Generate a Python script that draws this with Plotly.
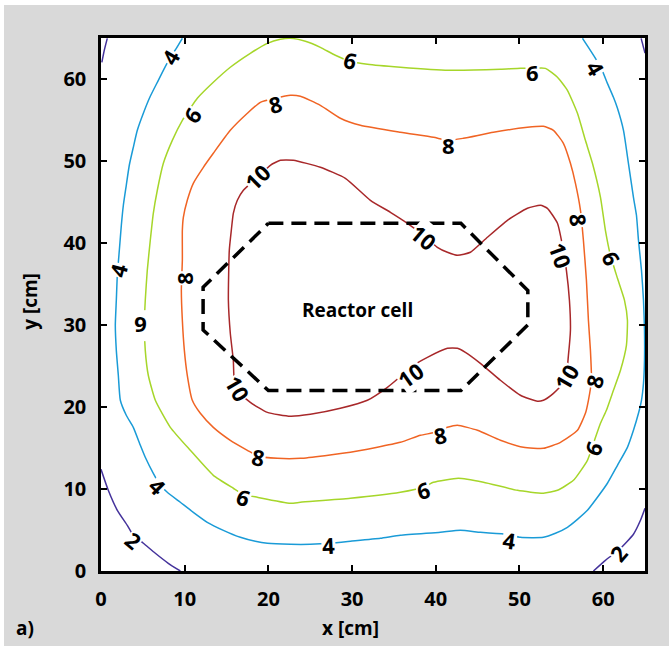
import plotly.graph_objects as go

# ---- data (cm) ----
lvl2_x = [0.0, 0.87, 1.95, 3.14, 3.86, 5.06, 6.49, 8.04, 9.48, None,
          65.0, 64.46, 63.62, 62.78, 61.83, 60.27, 58.84, None,
          0.75, 0.39, 0.1, None,
          64.54, 65.0]
lvl2_y = [12.4, 9.84, 7.40, 5.57, 4.35, 3.38, 2.16, 0.94, 0.0, None,
          7.65, 6.18, 4.48, 3.50, 2.52, 1.30, 0.0, None,
          64.96, 63.5, 62.03, None,
          64.96, 63.15]

lvl4_x = [9.72, 9.00, 8.28, 7.57, 6.85, 5.89, 5.06, 4.34, 3.86, 3.38, 3.02, 2.67, 2.43, 2.19,
          1.95, 1.83, 1.71, 1.83, 2.07, 2.31, 3.02, 3.86, 4.70, 5.29, 6.25, 7.09, 7.92, 9.48,
          11.03, 12.70, 14.62, 16.65, 18.44, 19.88, 22.63, 25.02, 27.41, 29.80, 33.38, 35.77,
          40.55, 42.94, 45.33, 48.56, 50.11, 52.86, 54.30, 55.73, 56.93, 58.12, 59.32, 60.51,
          61.71, 62.90, 63.62, 64.22, 64.58, 64.82, 64.94, 64.94, 64.82, 64.58, 64.22, 63.98,
          63.62, 63.02, 62.43, 61.71, 61.23, 60.51, 59.88, 59.08, 58.24, 57.53]
lvl4_y = [64.96, 63.74, 62.65, 61.30, 59.84, 57.89, 55.82, 53.74, 51.67, 49.48, 47.04, 44.60,
          42.16, 39.11, 36.06, 33.01, 29.96, 26.91, 23.87, 20.82, 18.99, 17.52, 15.33, 13.87,
          11.91, 10.45, 9.60, 8.38, 7.16, 5.94, 4.96, 4.11, 3.62, 3.38, 3.26, 3.26, 3.38, 3.62,
          3.99, 4.35, 4.72, 4.96, 4.72, 4.48, 4.11, 4.11, 4.60, 5.33, 6.30, 7.40, 8.99, 10.70,
          12.89, 15.08, 17.16, 19.23, 20.82, 22.89, 25.69, 29.35, 33.01, 36.67, 40.33, 43.38,
          45.57, 49.72, 53.74, 56.43, 57.77, 59.47, 61.06, 62.52, 63.86, 64.96]

lvl6_x = [22.63, 24.42, 26.21, 28.00, 29.80, 31.83, 35.77, 41.51, 47.72, 50.11, 51.55, 53.10,
          54.54, 55.73, 56.93, 57.88, 58.72, 59.68, 60.27, 60.87, 61.71, 62.55, 62.90, 62.78,
          62.07, 61.23, 60.39, 59.68, 58.84, 58.12, 56.45, 54.54, 52.86, 49.76, 45.69, 42.70,
          39.72, 38.52, 35.77, 29.80, 23.82, 22.63, 18.68, 17.01, 15.81, 13.42, 10.67, 8.28,
          6.49, 5.65, 5.29, 5.18, 5.29, 5.53, 5.89, 6.25, 6.73, 7.45, 8.52, 9.72, 10.67, 11.51,
          13.42, 15.45, 17.84, 19.88, 21.43, 22.63]
lvl6_y = [64.96, 64.60, 63.86, 62.89, 62.16, 61.79, 61.43, 61.06, 61.18, 61.30, 61.30, 61.30,
          60.21, 58.62, 55.82, 52.52, 49.72, 45.57, 41.55, 38.50, 35.69, 33.01, 30.57, 27.52,
          24.48, 22.04, 19.60, 18.01, 15.57, 13.50, 11.06, 9.84, 9.48, 9.84, 10.82, 11.30,
          10.82, 10.21, 9.60, 8.87, 8.38, 8.26, 8.99, 9.35, 10.09, 11.67, 14.72, 17.52, 20.82,
          23.87, 26.91, 29.96, 33.01, 36.67, 40.33, 43.62, 46.43, 49.72, 52.52, 54.96, 56.43,
          57.65, 59.60, 61.43, 63.13, 64.35, 64.84, 64.96]

lvl8_x = [22.63, 23.82, 26.21, 28.60, 30.99, 35.77, 39.72, 41.51, 43.30, 46.89, 50.95, 52.86,
          54.06, 55.25, 56.09, 56.69, 57.29, 57.64, 58.00, 58.24, 58.48, 58.60, 58.24, 57.88,
          56.93, 54.90, 52.86, 50.47, 47.72, 44.98, 42.59, 41.39, 39.96, 38.16, 35.77, 29.80,
          23.82, 21.07, 18.80, 17.49, 15.45, 13.42, 11.87, 10.91, 10.31, 9.96, 9.72, 9.60,
          9.72, 9.72, 9.84, 10.31, 11.03, 12.23, 13.42, 15.45, 17.49, 19.04, 20.83, 22.63]
lvl8_y = [58.01, 57.89, 56.79, 55.21, 54.35, 53.50, 52.89, 52.52, 52.77, 53.50, 54.11, 54.23,
          53.74, 52.16, 49.72, 47.28, 43.99, 40.33, 35.45, 30.57, 26.91, 23.26, 20.82, 19.23,
          17.16, 15.69, 14.96, 15.08, 15.94, 17.16, 17.77, 17.52, 16.91, 16.55, 15.69, 14.48,
          13.74, 13.74, 13.99, 14.72, 15.94, 17.52, 19.23, 20.82, 23.87, 26.91, 30.57, 34.23,
          37.89, 41.55, 43.13, 45.21, 47.28, 49.23, 50.94, 53.74, 55.82, 57.16, 57.65, 58.01]

lvl10_x = [22.98, 26.21, 29.20, 32.19, 34.58, 36.61, 38.52, 40.19, 41.39, 42.59, 44.14, 46.17,
           48.56, 50.95, 52.51, 53.34, 54.54, 55.13, 55.61, 55.97, 56.09, 55.85, 55.49, 54.06,
           52.86, 52.15, 50.11, 47.72, 45.33, 43.54, 42.59, 41.39, 39.00, 36.97, 35.53, 34.22,
           31.83, 28.60, 25.02, 22.63, 19.88, 17.84, 16.65, 15.93, 15.81, 15.45, 15.22, 15.33,
           15.57, 15.81, 16.29, 17.01, 18.68, 20.23, 21.43, 22.98]
lvl10_y = [50.09, 49.23, 47.89, 45.21, 43.74, 42.40, 40.94, 39.48, 38.87, 38.50, 38.87, 40.70,
           42.77, 44.23, 44.60, 44.23, 42.40, 39.72, 36.67, 33.01, 29.35, 26.30, 23.26, 21.67,
           20.82, 20.69, 21.43, 23.26, 25.33, 26.67, 27.16, 27.16, 26.06, 24.84, 23.50, 22.40,
           20.82, 19.84, 19.11, 18.87, 19.35, 20.57, 21.67, 23.26, 25.69, 28.99, 33.01, 39.11,
           41.55, 43.62, 45.21, 46.43, 48.01, 49.48, 50.09, 50.09]

cell_x = [20.0, 43.0, 51.0, 51.0, 43.0, 20.0, 12.2, 12.2, 20.0]
cell_y = [42.4, 42.4, 34.2, 30.0, 22.0, 22.0, 29.4, 34.6, 42.4]

label_text = ["4", "6", "6", "4", "6", "8", "10", "8", "10", "8", "10", "6", "4", "8", "6",
              "10", "10", "10", "8", "6", "8", "6", "4", "4", "6", "8", "4", "2", "2"]
label_x = [8.28, 29.80, 51.55, 59.08, 10.91, 20.83, 18.68, 41.51, 38.52, 57.05, 54.90, 60.99,
           2.07, 9.96, 4.70, 16.29, 36.97, 55.61, 58.96, 58.84, 40.55, 38.52, 48.80, 27.17,
           17.01, 18.80, 6.73, 3.86, 61.83]
label_y = [62.65, 62.28, 60.82, 61.30, 55.58, 56.91, 47.99, 51.90, 40.70, 42.77, 38.50, 38.13,
           36.67, 35.69, 29.96, 22.28, 23.87, 23.62, 23.14, 14.96, 16.55, 9.84, 3.74, 3.13,
           8.99, 13.87, 10.33, 3.74, 2.15]
label_angle = [-60, 15, 0, 60, -56, -15, -45, 0, 40, 85, 70, 65, -75, -90, 180, 60, -35, -60,
               -75, -65, -10, -15, 8, -3, 20, 10, 45, 40, -50]

x_ticks = [0, 10, 20, 30, 40, 50, 60]
y_ticks = [0, 10, 20, 30, 40, 50, 60]

levels = [
    (lvl2_x, lvl2_y, "#44329b"),
    (lvl4_x, lvl4_y, "#1a9bd7"),
    (lvl6_x, lvl6_y, "#a6d62a"),
    (lvl8_x, lvl8_y, "#f06424"),
    (lvl10_x, lvl10_y, "#a8282a"),
]

FONT = "Open Sans"
fig = go.Figure()
for xs, ys, col in levels:
    fig.add_trace(go.Scatter(x=xs, y=ys, mode="lines",
                             line=dict(color=col, width=1.5, shape="spline", smoothing=0.5),
                             hoverinfo="skip", showlegend=False))

fig.add_trace(go.Scatter(x=cell_x, y=cell_y, mode="lines",
                         line=dict(color="black", width=3.5, dash="15px,8px"),
                         hoverinfo="skip", showlegend=False))

annotations = []
for t, x, y, a in zip(label_text, label_x, label_y, label_angle):
    annotations.append(dict(x=x, y=y, xref="x", yref="y", text="<b>" + t + "</b>",
                            showarrow=False, textangle=a, bgcolor="white", borderpad=0,
                            font=dict(family=FONT, size=22, color="black")))

annotations.append(dict(x=30.6, y=31.8, xref="x", yref="y", text="<b>Reactor cell</b>",
                        showarrow=False, font=dict(family=FONT, size=19, color="black")))
annotations.append(dict(x=0.458, y=-0.107, xref="paper", yref="paper", text="<b>x [cm]</b>",
                        showarrow=False, xanchor="center", yanchor="middle",
                        font=dict(family=FONT, size=19, color="black")))
annotations.append(dict(x=-0.1305, y=0.505, xref="paper", yref="paper", text="<b>y [cm]</b>",
                        showarrow=False, xanchor="center", yanchor="middle", textangle=-90,
                        font=dict(family=FONT, size=19, color="black")))
annotations.append(dict(x=-0.16, y=-0.107, xref="paper", yref="paper", text="<b>a)</b>",
                        showarrow=False, xanchor="left", yanchor="middle",
                        font=dict(family=FONT, size=19, color="black")))

axis_common = dict(range=[0, 65], showgrid=False, zeroline=False, showline=True,
                   linecolor="black", linewidth=2.5, mirror="ticks", ticks="inside",
                   ticklen=6, tickwidth=2, tickcolor="black",
                   tickfont=dict(family=FONT, size=20, color="black", weight="bold"))

fig.update_layout(
    width=669, height=646,
    margin=dict(l=101, r=24, t=38, b=75),
    paper_bgcolor="#d9d9d9", plot_bgcolor="white",
    xaxis=dict(tickvals=x_ticks, ticktext=[str(v) for v in x_ticks], ticklabelstandoff=8,
               **axis_common),
    yaxis=dict(tickvals=y_ticks, ticktext=[str(v) for v in y_ticks], ticklabelstandoff=8,
               **axis_common),
    annotations=annotations,
    shapes=[
        dict(type="rect", xref="paper", yref="paper", x0=-0.3, x1=1.2, y0=1.0619, y1=1.2,
             fillcolor="white", line=dict(width=0), layer="below"),
        dict(type="rect", xref="paper", yref="paper", x0=-0.3, x1=-0.1783, y0=-0.3, y1=1.2,
             fillcolor="white", line=dict(width=0), layer="below"),
    ],
    hovermode=False,
    showlegend=False,
)

fig.write_html("out.html")
